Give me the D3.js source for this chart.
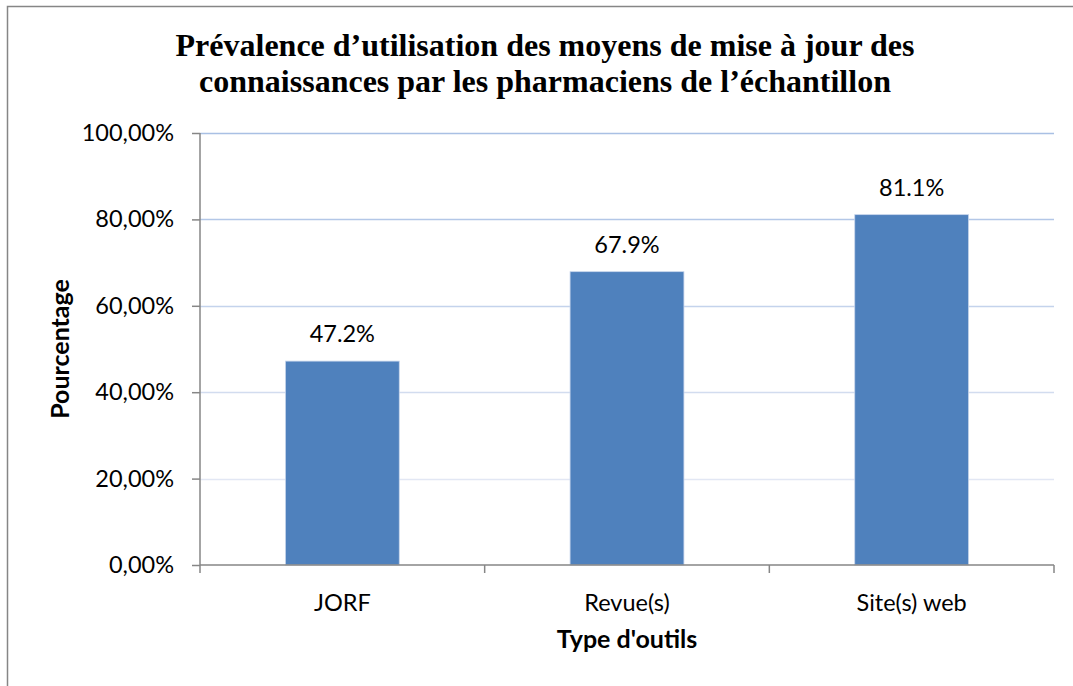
<!DOCTYPE html>
<html>
<head>
<meta charset="utf-8">
<script src="https://cdn.jsdelivr.net/npm/d3@7"></script>
<style>
  body { margin: 0; background: #fff; }
  text { font-family: Lato, "Open Sans", sans-serif; fill: #000; }
</style>
</head>
<body>
<script>
const categories = ["JORF", "Revue(s)", "Site(s) web"];
const values = [0.472, 0.679, 0.811];
const valueLabels = ["47.2%", "67.9%", "81.1%"];
const yTicks = [0, 0.2, 0.4, 0.6, 0.8, 1.0];
const yTickLabels = ["0,00%", "20,00%", "40,00%", "60,00%", "80,00%", "100,00%"];
const titleLines = [
  "Prévalence d\u2019utilisation des moyens de mise à jour des",
  "connaissances par les pharmaciens de l\u2019échantillon"
];
const gridColors = ["#C9D3EA", "#E2E7F4", "#D2DCEF", "#C4D3EC", "#B3C7E7", "#A9C0E4"];

const width = 1073, height = 686;
const margin = { left: 200, right: 19, top: 133, bottom: 121 };
const fs = 23.5;

const svg = d3.select("body").append("svg")
  .attr("width", width)
  .attr("height", height);

// frame
svg.append("rect")
  .attr("x", 7.5).attr("y", 6.5)
  .attr("width", width + 10).attr("height", height + 10)
  .attr("fill", "none")
  .attr("stroke", "#868686")
  .attr("stroke-width", 1.5);

const x = d3.scaleBand()
  .domain(categories)
  .range([margin.left, width - margin.right])
  .paddingInner(0.6)
  .paddingOuter(0.3);

const y = d3.scaleLinear()
  .domain([0, 1])
  .range([height - margin.bottom, margin.top]);

// grid
svg.append("g").selectAll("line")
  .data(yTicks.filter(d => d > 0))
  .join("line")
  .attr("x1", margin.left).attr("x2", width - margin.right)
  .attr("y1", d => Math.round(y(d)) + 0.5).attr("y2", d => Math.round(y(d)) + 0.5)
  .attr("stroke", (d, i) => gridColors[i + 1])
  .attr("stroke-width", 1.5);

// bars
svg.append("g").selectAll("rect")
  .data(values)
  .join("rect")
  .attr("x", (d, i) => x(categories[i]))
  .attr("y", d => y(d))
  .attr("width", x.bandwidth())
  .attr("height", d => y(0) - y(d))
  .attr("fill", "#4F81BD")
  .attr("stroke", "#C8D6EC")
  .attr("stroke-width", 0.8);

// value labels
svg.append("g").selectAll("text")
  .data(values)
  .join("text")
  .attr("x", (d, i) => x(categories[i]) + x.bandwidth() / 2)
  .attr("y", d => y(d) - 19)
  .attr("text-anchor", "middle")
  .attr("font-size", fs)
  .text((d, i) => valueLabels[i]);

// y axis
const yAxis = svg.append("g")
  .attr("transform", `translate(${margin.left},0)`)
  .call(d3.axisLeft(y).tickValues(yTicks).tickSize(8).tickPadding(18)
    .tickFormat((d, i) => yTickLabels[i]));
yAxis.selectAll("path, line").attr("stroke", "#868686").attr("stroke-width", 1.5);
yAxis.select(".domain").attr("d", `M0,${y(1)}V${y(0)}`);
yAxis.selectAll("text").attr("font-size", fs).attr("font-family", "Lato, sans-serif").attr("fill", "#000");

// x axis
const xAxis = svg.append("g")
  .attr("transform", `translate(0,${y(0)})`)
  .call(d3.axisBottom(x).tickSize(0).tickPadding(29));
xAxis.select(".domain").attr("stroke", "#868686").attr("stroke-width", 1.5)
  .attr("d", `M${margin.left},0H${width - margin.right}`);
xAxis.selectAll("text").attr("font-size", fs).attr("font-family", "Lato, sans-serif").attr("fill", "#000");

const bounds = categories.map(c => x(c) - x.step() * x.paddingInner() / 2);
bounds[0] = margin.left;
bounds.push(width - margin.right);
xAxis.append("g").selectAll("line")
  .data(bounds)
  .join("line")
  .attr("x1", d => d).attr("x2", d => d)
  .attr("y1", 0).attr("y2", 8)
  .attr("stroke", "#868686")
  .attr("stroke-width", 1.5);

// title
svg.append("g").selectAll("text")
  .data(titleLines)
  .join("text")
  .attr("x", 545)
  .attr("y", (d, i) => 56 + i * 36)
  .attr("text-anchor", "middle")
  .style("font-family", "'Liberation Serif', 'Times New Roman', serif")
  .attr("font-weight", "bold")
  .attr("font-size", 32)
  .text(d => d);

// axis titles
svg.append("text")
  .attr("transform", `translate(69,349) rotate(-90)`)
  .attr("text-anchor", "middle")
  .attr("font-weight", "bold")
  .attr("font-size", 25)
  .text("Pourcentage");

svg.append("text")
  .attr("x", 627)
  .attr("y", 648)
  .attr("text-anchor", "middle")
  .attr("font-weight", "bold")
  .attr("font-size", 25)
  .text("Type d'outils");
</script>
</body>
</html>
